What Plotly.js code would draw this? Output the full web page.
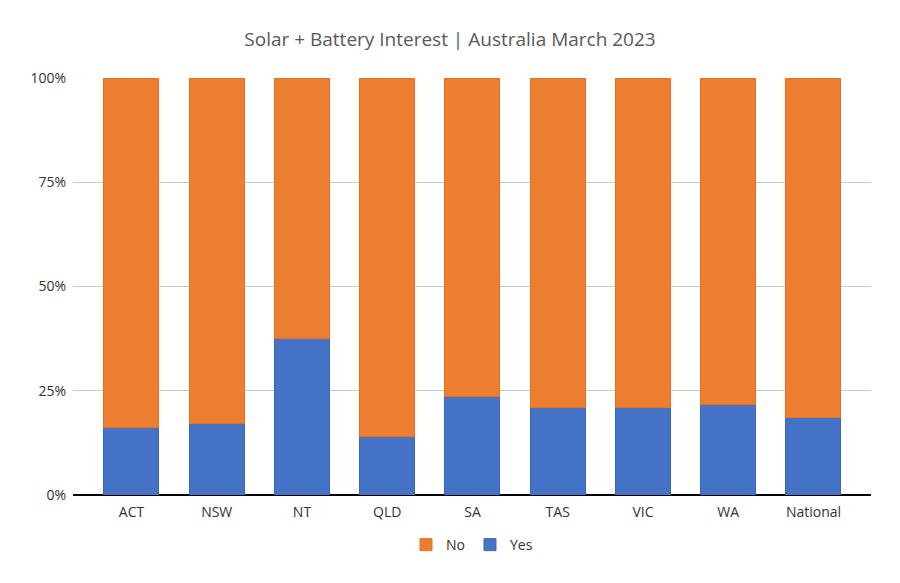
<!DOCTYPE html>
<html>
<head>
<meta charset="utf-8">
<script src="https://cdn.plot.ly/plotly-3.0.1.min.js"></script>
<style>html,body{margin:0;padding:0;background:#fff;}#chart{width:900px;height:583px;}</style>
</head>
<body>
<div id="chart"></div>
<script>
const categories = ["ACT", "NSW", "NT", "QLD", "SA", "TAS", "VIC", "WA", "National"];
const yesValues = [0.163, 0.172, 0.375, 0.141, 0.237, 0.211, 0.211, 0.218, 0.186];
const noValues = yesValues.map(v => 1 - v);
const yTickVals = [0, 0.25, 0.5, 0.75, 1];
const yTickText = ["0%", "25%", "50%", "75%", "100%"];

const traces = [
  {
    type: "bar", name: "Yes", x: categories, y: yesValues,
    marker: {color: "#4472c4", line: {color: "#3a66b8", width: 1}},
    hoverinfo: "x+y"
  },
  {
    type: "bar", name: "No", x: categories, y: noValues,
    marker: {color: "#ed7d31", line: {color: "#e8721f", width: 1}},
    hoverinfo: "x+y"
  }
];

const layout = {
  width: 900, height: 583,
  paper_bgcolor: "#fff", plot_bgcolor: "#fff",
  font: {family: "Open Sans, sans-serif", color: "#333", size: 14},
  title: {text: "Solar + Battery Interest | Australia March 2023", x: 0.5, xanchor: "center", y: 0.932, yanchor: "middle",
          font: {size: 19, color: "#595959", family: "Open Sans, sans-serif"}},
  barmode: "stack",
  bargap: 0.355,
  margin: {l: 73, r: 29, t: 78, b: 88},
  xaxis: {range: [-0.686, 8.675], showgrid: false, ticks: "", showline: false, zeroline: false,
          ticklabelstandoff: 7, tickfont: {size: 14, color: "#333"}},
  yaxis: {range: [0, 1], tickvals: yTickVals, ticktext: yTickText, showgrid: true, gridcolor: "#c8c8c8", gridwidth: 1,
          zeroline: true, zerolinecolor: "#000", zerolinewidth: 1.5, ticks: "", ticklen: 0,
          ticklabelstandoff: 6, tickfont: {size: 14, color: "#333"}, automargin: false},
  legend: {orientation: "h", x: 0.5, xanchor: "center", y: -0.12, yanchor: "middle", traceorder: "reversed",
           font: {size: 14, color: "#333"}},
  showlegend: true
};

Plotly.newPlot("chart", traces, layout, {displayModeBar: false, staticPlot: true});
</script>
</body>
</html>
